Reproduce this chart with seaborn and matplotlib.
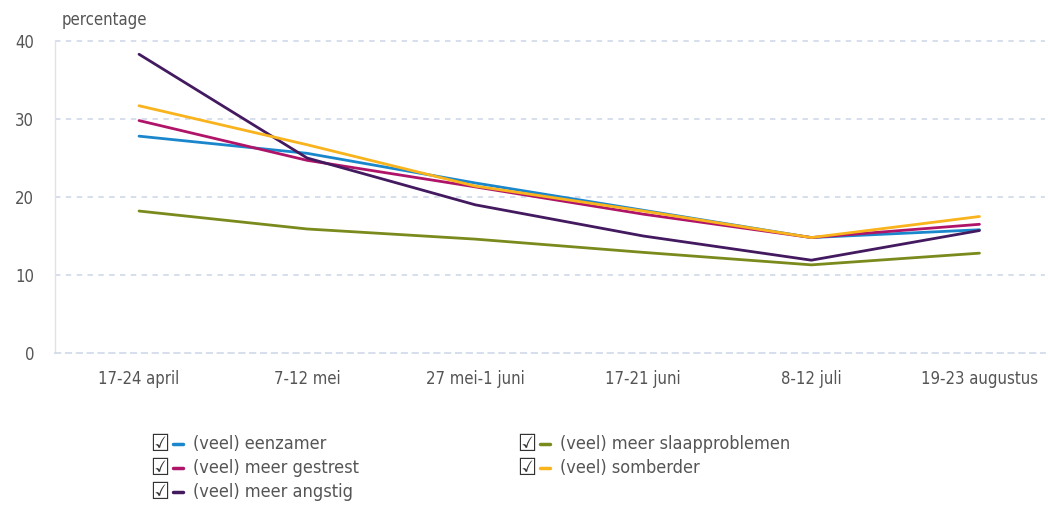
import matplotlib
matplotlib.use('Agg')
import matplotlib.pyplot as plt
import seaborn as sns
import pandas as pd
from matplotlib.lines import Line2D
from matplotlib.ticker import FixedLocator

periods = ['17-24 april', '7-12 mei', '27 mei-1 juni', '17-21 juni', '8-12 juli', '19-23 augustus']

eenzamer = [27.8, 25.6, 21.8, 18.3, 14.8, 15.8]
gestrest = [29.8, 24.7, 21.3, 17.8, 14.8, 16.5]
angstig = [38.3, 25.0, 19.0, 15.0, 11.9, 15.7]
slaap = [18.2, 15.9, 14.6, 12.9, 11.3, 12.8]
somberder = [31.7, 26.7, 21.4, 18.2, 14.8, 17.5]

series_names = ['(veel) eenzamer', '(veel) meer gestrest', '(veel) meer angstig',
                '(veel) meer slaapproblemen', '(veel) somberder']
series_values = [eenzamer, gestrest, angstig, slaap, somberder]
colors = ['#1a86cc', '#b01468', '#43195f', '#7b8a1c', '#f9b31c']

rows = []
for name, vals in zip(series_names, series_values):
    for p, v in zip(periods, vals):
        rows.append({'periode': p, 'reeks': name, 'percentage': v})
df = pd.DataFrame(rows)

sns.set_style('white')
plt.rcParams['font.family'] = ['DejaVu Sans']
plt.rcParams['font.stretch'] = 'condensed'
text_color = '#555555'
grid_color = '#d3dcea'

fig = plt.figure(figsize=(10.48, 5.11), dpi=100)
ax = fig.add_axes([55 / 1048, 1 - 353 / 511, 990 / 1048, 312 / 511])

sns.lineplot(data=df, x='periode', y='percentage', hue='reeks', hue_order=series_names,
             palette=dict(zip(series_names, colors)), sort=False, linewidth=2.0,
             legend=False, ax=ax, zorder=3)

ax.set_ylim(0, 40)
ax.set_xlim(-0.5, 5.39)
ax.set_yticks([0, 10, 20, 30, 40])
for y in [10, 20, 30, 40]:
    ax.axhline(y, color=grid_color, linewidth=1.3, linestyle=(0, (3, 3)), zorder=1, clip_on=False)

for side in ['top', 'right']:
    ax.spines[side].set_visible(False)
ax.spines['left'].set_color('#e2e2e2')
ax.spines['left'].set_linewidth(1.0)
ax.spines['bottom'].set_color(grid_color)
ax.spines['bottom'].set_linewidth(1.3)
ax.spines['bottom'].set_linestyle((0, (3, 3)))

ax.xaxis.set_minor_locator(FixedLocator([i - 0.5 for i in range(len(periods) + 1)]))
ax.tick_params(axis='x', which='minor', length=3, color=grid_color, width=1)
ax.tick_params(axis='x', which='major', length=0, pad=12, labelsize=12, labelcolor=text_color)
ax.tick_params(axis='y', length=0, pad=15, labelsize=12, labelcolor=text_color)
ax.set_xlabel('')
ax.set_ylabel('')

fig.text(62 / 1048, 1 - 20 / 511, 'percentage', fontsize=12, color=text_color,
         ha='left', va='center')

# legend with checkbox glyphs
positions = [(150, 444), (150, 468), (150, 492), (517, 444), (517, 468)]
for (px, py), name, col in zip(positions, series_names, colors):
    fx, fy = px / 1048, 1 - py / 511
    fig.text(fx, fy, '\u2611', fontsize=17, color='#333333', ha='left', va='center',
             family='DejaVu Sans')
    fig.add_artist(Line2D([fx + 23 / 1048, fx + 33 / 1048], [fy, fy], color=col,
                          linewidth=2.5, transform=fig.transFigure))
    fig.text(fx + 43 / 1048, fy, name, fontsize=13, color=text_color, ha='left', va='center')

fig.savefig('out.png', dpi=100)
plt.close(fig)
